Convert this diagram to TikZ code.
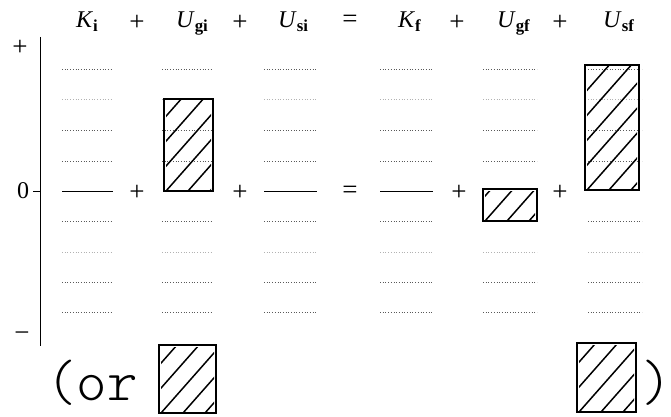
\documentclass[tikz,border=0pt]{standalone}
\usepackage{fontspec}
\setmainfont{Liberation Serif}
\newcommand\myhatchbox[4]{%
  \begin{scope}
    \clip (#1+2,#2+2) rectangle (#3-2,#4-2);
    \foreach \k in {-262,-240,...,60} {
      \draw[hatch] (#1+\k,#4) -- ++(150,-170);
    }
  \end{scope}
  \draw[bar] (#1,#2) rectangle (#3,#4);
}
\begin{document}
\begin{tikzpicture}[x=1pt,y=-1pt,
  grid/.style={dotted, line width=0.7pt, black!65},
  faint/.style={dotted, line width=0.7pt, black!30},
  zero/.style={line width=0.9pt},
  bar/.style={line width=2.4pt},
  hatch/.style={line width=1.5pt},
  lab/.style={font=\fontsize{24}{24}\selectfont, inner sep=0pt},
  op/.style={font=\fontsize{27}{27}\selectfont, inner sep=0pt},
  hand/.style={font=\fontsize{58}{58}\fontseries{l}\ttfamily, inner sep=0pt, anchor=base}]
\useasboundingbox (0,0) rectangle (671,417);

% header
\node[lab, anchor=base west] (hKi)  at (76,28)  {\textit{K}\textsubscript{\textbf{i}}};
\node[op] (hp1) at (137,22.5) {+};
\node[lab, anchor=base west] (hUgi) at (176,28) {\textit{U}\textsubscript{\textbf{gi}}};
\node[op] (hp2) at (240,22.5) {+};
\node[lab, anchor=base west] (hUsi) at (278,28) {\textit{U}\textsubscript{\textbf{si}}};
\node[op] (heq) at (350,21.5) {=};
\node[lab, anchor=base west] (hKf)  at (398,28) {\textit{K}\textsubscript{\textbf{f}}};
\node[op] (hp3) at (457,22.5) {+};
\node[lab, anchor=base west] (hUgf) at (497,28) {\textit{U}\textsubscript{\textbf{gf}}};
\node[op] (hp4) at (560,22.5) {+};
\node[lab, anchor=base west] (hUsf) at (603,28) {\textit{U}\textsubscript{\textbf{sf}}};

% axis
\coordinate (atop) at (40,37);
\coordinate (abot) at (40,346);
\coordinate (tick) at (33,191);
\coordinate (tickend) at (40,191);
\draw[line width=0.9pt] (atop) -- (abot);
\draw[line width=0.8pt] (tick) -- (tickend);
\node[op] (plus) at (20,48) {+};
\node[lab] (zero) at (23,191) {0};
\node[op] (minus) at (22,337) {\textminus};

% grid lines
\foreach \xa/\xb in {62/113,162/213,264/317,380/433,483/537,588/642} {
  \foreach \yy in {69,130,161,221,282,312} {
    \draw[grid] (\xa,\yy) -- (\xb,\yy);
  }
  \foreach \yy in {99,252} {
    \draw[faint] (\xa,\yy) -- (\xb,\yy);
  }
}
\foreach \xa/\xb in {62/113,264/317,380/433} {
  \draw[zero] (\xa,191) -- (\xb,191);
}

% operators at zero row
\node[op] (op1) at (137,193) {+};
\node[op] (op2) at (240,193) {+};
\node[op] (op3) at (350,192) {=};
\node[op] (op4) at (459,193) {+};
\node[op] (op5) at (560,193) {+};

% bars
\myhatchbox{164}{99}{213}{191}
\myhatchbox{483}{189}{537}{221}
\myhatchbox{585}{65}{639}{190}
\myhatchbox{159}{345}{216}{413}
\myhatchbox{577}{343}{636}{412}

% handwritten
\node[hand, anchor=base west] (or) at (46,400) {(or};
\node[hand] (cl) at (657,400) {)};
\end{tikzpicture}
\end{document}
